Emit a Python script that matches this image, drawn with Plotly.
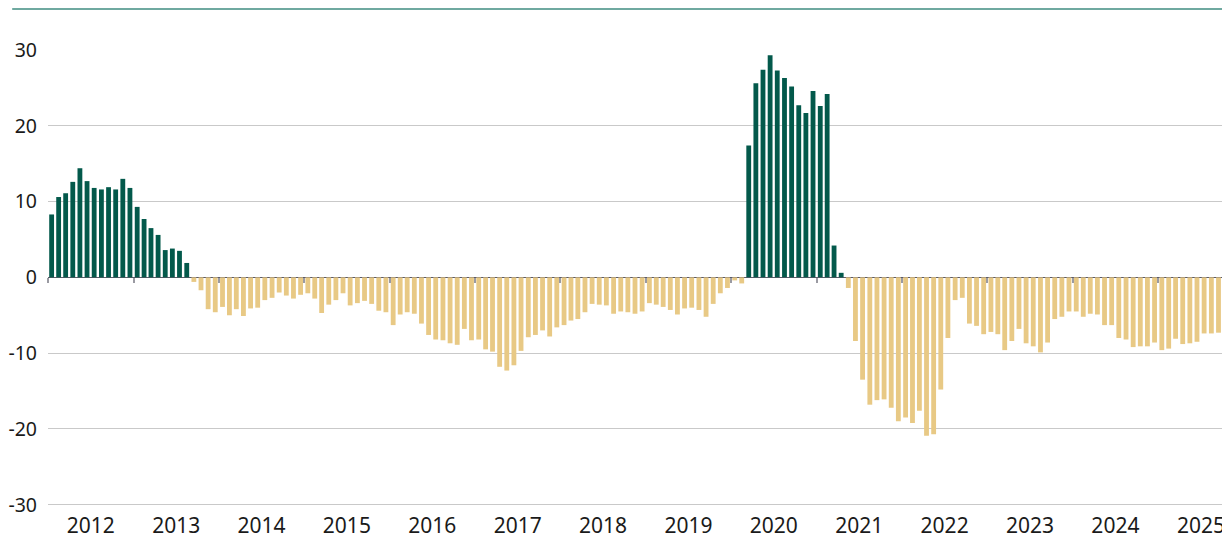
import plotly.graph_objects as go
import pandas as pd

# monthly values (Jan 2012 - Sep 2025)
values_2012 = [8.3, 10.6, 11.1, 12.6, 14.4, 12.7, 11.8, 11.6, 11.9, 11.6, 13.0, 11.8]
values_2013 = [9.3, 7.7, 6.5, 5.6, 3.6, 3.8, 3.5, 1.9, -0.6, -1.7, -4.2, -4.6]
values_2014 = [-3.9, -5.0, -4.2, -5.1, -4.1, -4.0, -3.0, -2.7, -2.0, -2.4, -2.8, -2.3]
values_2015 = [-2.1, -2.8, -4.7, -3.6, -3.0, -2.1, -3.7, -3.4, -3.1, -3.5, -4.4, -4.6]
values_2016 = [-6.3, -4.9, -4.6, -4.8, -6.1, -7.6, -8.2, -8.3, -8.7, -8.9, -6.8, -8.3]
values_2017 = [-8.2, -9.5, -9.8, -11.8, -12.3, -11.6, -9.7, -7.9, -7.6, -7.0, -7.8, -6.6]
values_2018 = [-6.3, -5.7, -5.5, -4.6, -3.5, -3.6, -3.7, -4.8, -4.5, -4.6, -4.8, -4.5]
values_2019 = [-3.4, -3.6, -3.9, -4.3, -4.9, -4.1, -4.0, -4.3, -5.2, -3.5, -2.1, -1.4]
values_2020 = [-0.4, -0.8, 17.4, 25.6, 27.4, 29.3, 27.3, 26.3, 25.2, 22.7, 21.7, 24.6]
values_2021 = [22.6, 24.2, 4.2, 0.6, -1.4, -8.4, -13.5, -16.8, -16.2, -16.1, -17.2, -19.0]
values_2022 = [-18.5, -19.2, -17.6, -20.9, -20.7, -14.8, -8.0, -3.0, -2.7, -6.1, -6.4, -7.5]
values_2023 = [-7.2, -7.5, -9.6, -8.4, -6.8, -8.7, -9.1, -9.9, -8.6, -5.5, -5.2, -4.5]
values_2024 = [-4.5, -5.2, -4.8, -4.9, -6.3, -6.3, -8.0, -8.2, -9.2, -9.1, -9.1, -8.6]
values_2025 = [-9.6, -9.4, -8.1, -8.8, -8.7, -8.5, -7.4, -7.4, -7.3]

y_tick_vals = [-30, -20, -10, 0, 10, 20, 30]
y_tick_text = ['-30', '-20', '-10', '0', '10', '20', '30']
year_starts = [str(y) + '-01-01' for y in range(2012, 2026)]

values = (values_2012 + values_2013 + values_2014 + values_2015 + values_2016
          + values_2017 + values_2018 + values_2019 + values_2020 + values_2021
          + values_2022 + values_2023 + values_2024 + values_2025)
months = pd.date_range('2012-01-01', periods=len(values), freq='MS')

GREEN = '#03594b'
YELLOW = '#e8c985'
colors = [GREEN if v > 0 else YELLOW for v in values]

fig = go.Figure()

fig.add_trace(go.Bar(
    x=months,
    y=values,
    xperiod='M1',
    xperiodalignment='middle',
    marker=dict(color=colors, line=dict(width=0)),
    showlegend=False
))

# page has an 8px body margin, so the figure is 8px smaller than the window
fig.update_layout(
    width=1222,
    height=530,
    margin=dict(l=40, r=8, t=42, b=31),
    paper_bgcolor='white',
    plot_bgcolor='white',
    font=dict(family='Noto Sans', size=21, color='#1a1a1a'),
    bargap=0.3,
    xaxis=dict(
        type='date',
        range=['2012-01-01', '2025-10-01'],
        dtick='M12',
        tick0='2012-01-01',
        tickformat='%Y',
        ticklabelmode='period',
        ticks='',
        ticklabelstandoff=4,
        showgrid=False,
        showline=False,
        zeroline=False,
        automargin=False
    ),
    # second x axis only draws the year ticks on the zero line
    xaxis2=dict(
        type='date',
        overlaying='x',
        matches='x',
        anchor='free',
        position=(0 + 30.3) / 60.3,
        side='bottom',
        tickmode='array',
        tickvals=year_starts,
        ticks='outside',
        ticklen=5,
        tickwidth=2,
        tickcolor='#9a9aa2',
        showticklabels=False,
        showgrid=False,
        showline=False,
        zeroline=False,
        automargin=False
    ),
    yaxis=dict(
        range=[-30.3, 30],
        tickmode='array',
        tickvals=y_tick_vals,
        ticktext=y_tick_text,
        tickfont=dict(size=19.5),
        showgrid=True,
        gridcolor='#c9c9c9',
        gridwidth=1,
        zeroline=True,
        zerolinecolor='#5a5a66',
        zerolinewidth=1,
        ticks='',
        ticklabelstandoff=10,
        automargin=False
    ),
    shapes=[dict(
        type='line', xref='paper', yref='paper',
        x0=-0.0305, x1=1, y0=1 + 41 / 457, y1=1 + 41 / 457,
        line=dict(color='#6fa9a0', width=2)
    )]
)

# dummy trace so the overlay axis is drawn
fig.add_trace(go.Scatter(x=[months[0]], y=[None], xaxis='x2', showlegend=False, hoverinfo='skip'))

fig.write_html("out.html")
